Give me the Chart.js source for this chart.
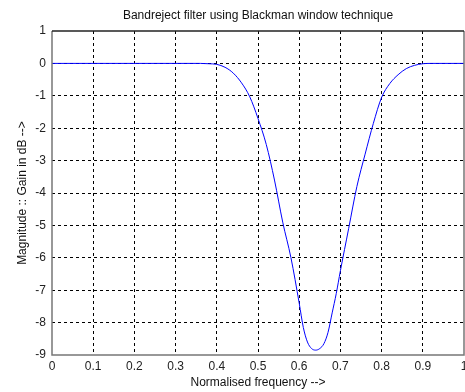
<!DOCTYPE html>
<html>
<head>
<meta charset="utf-8">
<script src="https://cdn.jsdelivr.net/npm/chart.js@4.4.1/dist/chart.umd.min.js"></script>
<style>
  html, body { margin: 0; padding: 0; background: #fff; }
  #wrap { width: 465px; height: 392px; }
</style>
</head>
<body>
<div id="wrap"><canvas id="myChart" width="465" height="392"></canvas></div>
<script>
// normalised frequency and magnitude (dB)
const freq = [0, 0.36, 0.38, 0.40, 0.42, 0.44, 0.46, 0.48, 0.50, 0.52, 0.54, 0.56, 0.58, 0.60, 0.61, 0.62, 0.63, 0.64, 0.65, 0.66, 0.67, 0.68, 0.69, 0.70, 0.72, 0.74, 0.76, 0.78, 0.80, 0.82, 0.84, 0.86, 0.88, 0.90, 0.92, 1.0];
const gainDb = [0, 0, -0.01, -0.03, -0.12, -0.3, -0.6, -1.03, -1.7, -2.5, -3.6, -4.9, -6.0, -7.4, -8.15, -8.6, -8.8, -8.85, -8.8, -8.65, -8.3, -7.7, -7.1, -6.4, -5.1, -3.8, -2.8, -1.85, -1.05, -0.62, -0.35, -0.16, -0.06, -0.01, 0, 0];

const xTicks = [0, 0.1, 0.2, 0.3, 0.4, 0.5, 0.6, 0.7, 0.8, 0.9, 1];
const yTicks = [1, 0, -1, -2, -3, -4, -5, -6, -7, -8, -9];
const chartTitle = 'Bandreject filter using Blackman window technique';

const textFont = { family: 'Arial, "Liberation Sans", sans-serif', size: 12, weight: 'normal' };

// box round the plot, and the title centred over the plot area (not the canvas)
const frameBox = {
    id: 'frameBox',
    afterDatasetsDraw(chart) {
        const { ctx, chartArea: a } = chart;
        ctx.save();
        ctx.lineWidth = 1.5;
        ctx.strokeStyle = '#777';
        ctx.beginPath();
        ctx.moveTo(a.left, a.top);
        ctx.lineTo(a.left, a.bottom);
        ctx.lineTo(a.right, a.bottom);
        ctx.lineTo(a.right, a.top);
        ctx.stroke();
        ctx.strokeStyle = '#222';
        ctx.beginPath();
        ctx.moveTo(a.left, a.top);
        ctx.lineTo(a.right, a.top);
        ctx.stroke();

        ctx.fillStyle = '#111';
        ctx.font = '12px Arial, "Liberation Sans", sans-serif';
        ctx.textAlign = 'center';
        ctx.textBaseline = 'middle';
        ctx.fillText(chartTitle, (a.left + a.right) / 2, 16);
        ctx.restore();
    }
};

const edgeless = (ctx) => (ctx.index === 0 || ctx.index === ctx.scale.ticks.length - 1) ? 'rgba(0,0,0,0)' : '#000';

const ctx = document.getElementById('myChart').getContext('2d');
new Chart(ctx, {
    type: 'line',
    data: {
        datasets: [{
            data: freq.map((x, i) => ({ x, y: gainDb[i] })),
            borderColor: '#0000ff',
            borderWidth: 1,
            pointRadius: 0,
            fill: false,
            cubicInterpolationMode: 'monotone'
        }]
    },
    options: {
        responsive: false,
        animation: false,
        layout: { padding: { left: 0, right: 1, top: 31, bottom: 0 } },
        plugins: {
            legend: { display: false },
            tooltip: { enabled: false },
            title: { display: false }
        },
        scales: {
            x: {
                type: 'linear',
                min: 0, max: 1,
                afterBuildTicks: (s) => { s.ticks = xTicks.map(v => ({ value: v })); },
                afterFit: (s) => { s.height = 37; s.paddingLeft = 0; s.paddingRight = 0; },
                ticks: { color: '#222', font: textFont, padding: 4, maxRotation: 0, callback: (v) => String(v) },
                grid: { color: edgeless, drawTicks: false },
                border: { display: false, dash: [3, 3] },
                title: { display: true, text: 'Normalised frequency -->', color: '#111', font: textFont, padding: { top: 0, bottom: 2 } }
            },
            y: {
                type: 'linear',
                min: -9, max: 1,
                afterBuildTicks: (s) => { s.ticks = yTicks.map(v => ({ value: v })); },
                afterFit: (s) => { s.width = 52; s.paddingTop = 0; s.paddingBottom = 0; },
                ticks: { color: '#222', font: textFont, padding: 6, callback: (v) => String(v) },
                grid: { color: edgeless, drawTicks: false },
                border: { display: false, dash: [3, 3] },
                title: { display: true, text: 'Magnitude :: Gain in dB -->', color: '#111', font: textFont, padding: { top: 15, bottom: 0 } }
            }
        }
    },
    plugins: [frameBox]
});
</script>
</body>
</html>
